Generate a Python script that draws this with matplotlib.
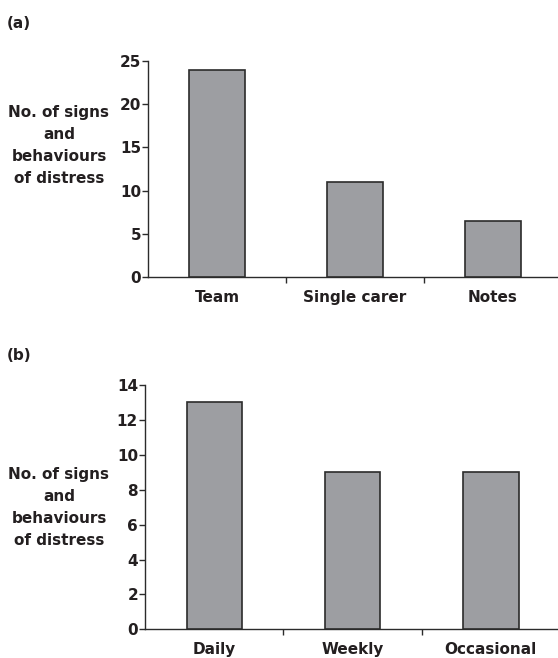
import matplotlib
matplotlib.use("Agg")
import matplotlib.pyplot as plt

plt.rcParams['font.family'] = ['DejaVu Sans']
plt.rcParams['font.weight'] = 'bold'

cats_a = ["Team", "Single carer", "Notes"]
vals_a = [24, 11, 6.5]
yticks_a = [0, 5, 10, 15, 20, 25]

cats_b = ["Daily", "Weekly", "Occasional"]
vals_b = [13, 9, 9]
yticks_b = [0, 2, 4, 6, 8, 10, 12, 14]

ylabel = "No. of signs\nand\nbehaviours\nof distress"
TXT = "#231f20"
BAR = "#9d9ea2"
EDGE = "#2b2b2b"
FS = 11

fig = plt.figure(figsize=(5.58, 6.58), dpi=100)

def panel(rect, cats, vals, yticks, ymax):
    ax = fig.add_axes(rect)
    x = list(range(len(cats)))
    ax.bar(x, vals, width=0.4, color=BAR, edgecolor=EDGE, linewidth=1.2, zorder=3)
    ax.set_xlim(-0.5, 2.5)
    ax.set_ylim(0, ymax)
    ax.set_yticks(yticks)
    ax.set_yticklabels([str(t) for t in yticks], fontsize=FS, fontweight='bold', color=TXT)
    ax.set_xticks(x)
    ax.set_xticklabels(cats, fontsize=FS, fontweight='bold', color=TXT)
    ax.set_xticks([0.5, 1.5], minor=True)
    ax.tick_params(axis='x', which='major', length=0, pad=9)
    ax.tick_params(axis='x', which='minor', length=4, width=1, color=EDGE, direction='out')
    ax.tick_params(axis='y', length=4, width=1, color=EDGE, direction='out', pad=1)
    for s in ['top', 'right']:
        ax.spines[s].set_visible(False)
    for s in ['left', 'bottom']:
        ax.spines[s].set_color(EDGE)
        ax.spines[s].set_linewidth(1.0)
    return ax

panel([148/558, 1-277/658, (562-148)/558, 216/658], cats_a, vals_a, yticks_a, 25)
panel([145/558, 1-629.3/658, (560-145)/558, 244.3/658], cats_b, vals_b, yticks_b, 14)

fig.text(59/558, 1-145.5/658, ylabel, ha='center', va='center', multialignment='center',
         fontsize=FS, fontweight='bold', color=TXT, linespacing=1.6)
fig.text(59/558, 1-507.5/658, ylabel, ha='center', va='center', multialignment='center',
         fontsize=FS, fontweight='bold', color=TXT, linespacing=1.6)

fig.text(7/558, 1-23/658, "(a)", ha='left', va='center', fontsize=FS, fontweight='bold', color=TXT)
fig.text(7/558, 1-355/658, "(b)", ha='left', va='center', fontsize=FS, fontweight='bold', color=TXT)

fig.savefig("out.png", dpi=100)
